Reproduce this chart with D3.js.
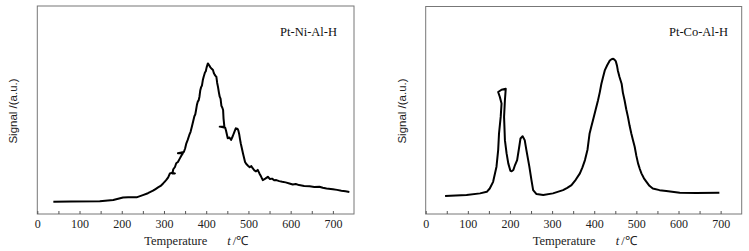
<!DOCTYPE html>
<html>
<head>
<meta charset="utf-8">
<script src="https://cdn.jsdelivr.net/npm/d3@7/dist/d3.min.js"></script>
<style>
  html, body { margin: 0; padding: 0; background: #fff; }
  svg { display: block; }
</style>
</head>
<body>
<svg id="chart" width="749" height="251"></svg>
<script>
// ---- data ----
const tempNi = [38, 80, 148, 180, 203, 215, 235, 250, 262, 274, 280, 286, 292, 298, 302, 306, 310, 314, 318, 326, 320, 322, 326, 329, 333, 337, 341, 345, 333, 347, 350, 353, 356, 360, 363, 366, 369, 372, 374, 376, 378, 380, 382, 384, 386, 388, 390, 392, 394, 397, 399, 401, 404, 407, 410, 413, 416, 418, 420, 422, 424, 426, 428, 430, 432, 434, 436, 438, 440, 441, 443, 432, 445, 447, 449, 451, 455, 459, 463, 467, 470, 472, 474, 476, 478, 480, 482, 484, 487, 489, 492, 495, 499, 503, 507, 510, 514, 518, 522, 526, 530, 534, 540, 546, 551, 556, 561, 566, 573, 580, 588, 597, 605, 612, 620, 632, 645, 656, 668, 676, 685, 700, 710, 720, 730, 739];
const signalNi = [5.9, 6.0, 6.1, 6.7, 7.9, 8.1, 8.0, 9.1, 10.0, 11.2, 12.0, 12.8, 13.5, 14.7, 15.6, 16.5, 17.6, 19.5, 19.8, 19.5, 19.5, 21.5, 22.6, 24.4, 25.0, 26.5, 28.0, 29.2, 29.2, 29.8, 31.5, 34, 35.5, 38, 39.5, 42, 44.5, 47, 47.8, 50, 52.5, 54, 54.6, 56.4, 59.5, 61, 61.8, 64.4, 66, 68, 68.6, 70.5, 72.4, 71.5, 70.5, 69.8, 69.2, 67.8, 67, 66.4, 66, 63, 61, 58.5, 56.4, 55.5, 52, 51.2, 50, 46, 42, 42, 41.5, 40, 38.2, 36.4, 36.8, 35.6, 37.5, 39.6, 41.2, 40.9, 41, 40.2, 38.5, 36, 33.8, 32, 29.2, 27.5, 25, 24, 23.2, 22.5, 23.0, 22, 21.0, 20.5, 21.2, 19.5, 18.0, 16.3, 17, 17.9, 16.8, 17, 16.2, 16.3, 15.8, 15.5, 15.2, 14.7, 14.2, 14.4, 13.9, 13.5, 13.3, 13.0, 13.1, 12.6, 12.3, 11.9, 11.6, 11.2, 10.9, 10.6];

const tempCo = [46, 97, 129, 145, 152, 160, 168, 172, 174, 178, 180, 176, 172, 180, 190, 188, 186, 188, 192, 196, 201, 204, 208, 212, 217, 222, 225, 230, 235, 239, 246, 251, 255, 263, 279, 302, 326, 336, 346, 356, 366, 372, 378, 384, 389, 393, 397, 403, 409, 413, 417, 421, 425, 431, 437, 441, 445, 448, 451, 454, 456, 460, 465, 468, 472, 476, 480, 484, 488, 492, 496, 500, 504, 508, 512, 518, 524, 531, 539, 555, 571, 603, 642, 697];
const signalCo = [8.65, 9.13, 9.94, 10.7, 12.3, 15.5, 22.8, 30.8, 38.8, 46.8, 53.2, 56.4, 58.8, 59.9, 60.4, 54.8, 46.8, 35.6, 29.2, 24.4, 20.8, 20.6, 21.2, 23.6, 26, 32.4, 36.4, 37.5, 35.6, 30.8, 22.8, 16.3, 11.5, 9.6, 9.13, 9.94, 11.5, 12.6, 13.9, 16.5, 19.6, 22.5, 26, 31, 38.8, 42, 45.2, 50, 54.8, 58.5, 62.8, 66, 69.2, 71.8, 74, 74.6, 74.8, 74.4, 73.7, 71.5, 69.2, 66, 62.8, 58.5, 54.8, 50.5, 46.8, 42.5, 38.8, 35.5, 32.4, 28, 24.4, 21.8, 19.6, 17.2, 15.5, 13.6, 12.3, 11.5, 11.06, 10.26, 10.1, 10.26];

const xTickValues = [0, 50, 100, 150, 200, 250, 300, 350, 400, 450, 500, 550, 600, 650, 700];
const xLabelValues = [0, 100, 200, 300, 400, 500, 600, 700];
const panelLabels = ["Pt-Ni-Al-H", "Pt-Co-Al-H"];
const xTitle = "Temperature";
const yTitle = "Signal /(a.u.)";

// ---- layout ----
const svg = d3.select("#chart");
const panels = [
  { left: 37.3, right: 354, top: 6, bottom: 214, temps: tempNi, sig: signalNi, label: panelLabels[0], labelX: 337, ylabX: 13 },
  { left: 425.7, right: 741.7, top: 6.5, bottom: 214, temps: tempCo, sig: signalCo, label: panelLabels[1], labelX: 728, ylabX: 402 }
];

const serif = "'Liberation Serif', 'Times New Roman', serif";

panels.forEach(p => {
  const x = d3.scaleLinear().domain([0, 750]).range([p.left, p.right]);
  const y = d3.scaleLinear().domain([0, 100]).range([p.bottom, p.top]);
  const g = svg.append("g");

  // frame
  g.append("rect")
    .attr("x", p.left).attr("y", p.top)
    .attr("width", p.right - p.left).attr("height", p.bottom - p.top)
    .attr("fill", "none").attr("stroke", "#777").attr("stroke-width", 1);

  // x axis
  const ax = d3.axisBottom(x)
    .tickValues(xTickValues)
    .tickSizeInner(-3)
    .tickSizeOuter(0)
    .tickPadding(5.5)
    .tickFormat(d => xLabelValues.includes(d) ? String(d) : "");
  const axg = g.append("g").attr("transform", `translate(0,${p.bottom})`).call(ax);
  axg.select(".domain").remove();
  axg.selectAll(".tick line").attr("stroke", "#555");
  axg.selectAll(".tick text")
    .attr("font-family", serif).attr("font-size", 12).attr("fill", "#222");

  // x title
  const title = g.append("text")
    .attr("x", p.left + 107).attr("y", 245)
    .attr("font-family", serif).attr("font-size", 12.5).attr("fill", "#222");
  title.append("tspan").text(xTitle);
  title.append("tspan").attr("dx", 20).attr("font-style", "italic").text("t");
  title.append("tspan").attr("dx", 2).text("/℃");

  // y title
  g.append("text")
    .attr("transform", `translate(${p.ylabX + 4},111) rotate(-90)`)
    .attr("text-anchor", "middle")
    .attr("font-family", "'Liberation Sans', Arial, sans-serif").attr("font-size", 11.5).attr("fill", "#222")
    .text(yTitle);

  // panel label
  g.append("text")
    .attr("x", p.labelX).attr("y", 36)
    .attr("text-anchor", "end")
    .attr("font-family", serif).attr("font-size", 12.5).attr("fill", "#111")
    .text(p.label);

  // curve
  const pts = p.temps.map((t, i) => [t, p.sig[i]]);
  g.append("path")
    .datum(pts)
    .attr("fill", "none")
    .attr("stroke", "#000")
    .attr("stroke-width", 2)
    .attr("stroke-linejoin", "round")
    .attr("d", d3.line().x(d => x(d[0])).y(d => y(d[1])));
});
</script>
</body>
</html>
